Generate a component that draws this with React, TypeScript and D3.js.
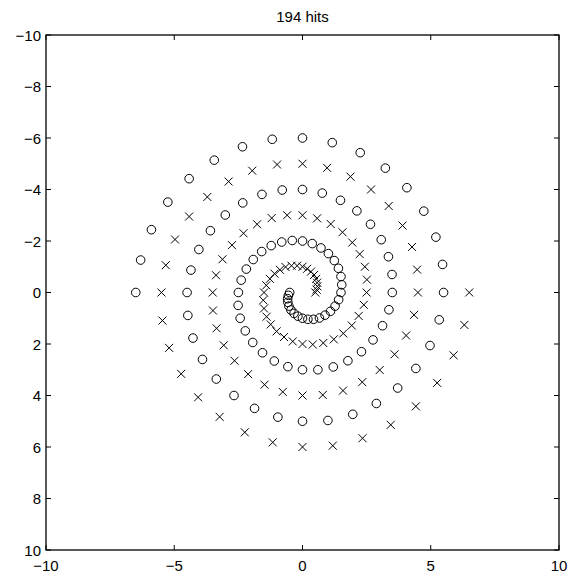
import React from 'react';
import * as d3 from 'd3';

// spiral: "x" marks, one ring step per point
const crossX = [6.50, 6.31, 5.89, 5.25, 4.42, 3.44, 2.34, 1.18, 0.00, -1.16, -2.25, -3.23, -4.07, -4.73, -5.20, -5.46,
    -5.50, -5.33, -4.97, -4.42, -3.71, -2.88, -1.96, -0.99, 0.00, 0.96, 1.87, 2.67, 3.36, 3.90, 4.27, 4.47,
    4.50, 4.35, 4.04, 3.59, 3.01, 2.33, 1.58, 0.79, 0.00, -0.77, -1.48, -2.12, -2.65, -3.07, -3.35, -3.49,
    -3.50, -3.37, -3.12, -2.75, -2.30, -1.77, -1.20, -0.60, 0.00, 0.57, 1.10, 1.56, 1.94, 2.23, 2.43, 2.51,
    2.50, 2.39, 2.19, 1.92, 1.59, 1.22, 0.81, 0.40, 0.00, -0.38, -0.72, -1.01, -1.24, -1.40, -1.50, -1.53,
    -1.50, -1.41, -1.27, -1.09, -0.88, -0.66, -0.43, -0.21, 0.00, 0.18, 0.33, 0.45, 0.53, 0.57, 0.58, 0.55,
    0.50];
const crossY = [0.00, 1.26, 2.44, 3.51, 4.42, 5.14, 5.66, 5.95, 6.00, 5.82, 5.43, 4.83, 4.07, 3.16, 2.15, 1.09,
    0.00, -1.06, -2.06, -2.95, -3.71, -4.31, -4.73, -4.97, -5.00, -4.84, -4.50, -4.00, -3.36, -2.60, -1.77, -0.89,
    0.00, 0.87, 1.67, 2.40, 3.01, 3.48, 3.81, 3.98, 4.00, 3.86, 3.58, 3.17, 2.65, 2.05, 1.39, 0.70,
    0.00, -0.67, -1.29, -1.84, -2.30, -2.65, -2.89, -3.00, -3.00, -2.88, -2.66, -2.34, -1.94, -1.49, -1.00, -0.50,
    0.00, 0.48, 0.91, 1.28, 1.59, 1.82, 1.96, 2.02, 2.00, 1.90, 1.73, 1.51, 1.24, 0.94, 0.62, 0.30,
    0.00, -0.28, -0.53, -0.73, -0.88, -0.99, -1.04, -1.04, -1.00, -0.92, -0.81, -0.68, -0.53, -0.38, -0.24, -0.11,
    0.00];

// second spiral: "o" marks
const circleX = [-6.50, -6.31, -5.89, -5.25, -4.42, -3.44, -2.34, -1.18, 0.00, 1.16, 2.25, 3.23, 4.07, 4.73, 5.20, 5.46,
    5.50, 5.33, 4.97, 4.42, 3.71, 2.88, 1.96, 0.99, 0.00, -0.96, -1.87, -2.67, -3.36, -3.90, -4.27, -4.47,
    -4.50, -4.35, -4.04, -3.59, -3.01, -2.33, -1.58, -0.79, 0.00, 0.77, 1.48, 2.12, 2.65, 3.07, 3.35, 3.49,
    3.50, 3.37, 3.12, 2.75, 2.30, 1.77, 1.20, 0.60, 0.00, -0.57, -1.10, -1.56, -1.94, -2.23, -2.43, -2.51,
    -2.50, -2.39, -2.19, -1.92, -1.59, -1.22, -0.81, -0.40, 0.00, 0.38, 0.72, 1.01, 1.24, 1.40, 1.50, 1.53,
    1.50, 1.41, 1.27, 1.09, 0.88, 0.66, 0.43, 0.21, 0.00, -0.18, -0.33, -0.45, -0.53, -0.57, -0.58, -0.55,
    -0.50];
const circleY = [0.00, -1.26, -2.44, -3.51, -4.42, -5.14, -5.66, -5.95, -6.00, -5.82, -5.43, -4.83, -4.07, -3.16, -2.15, -1.09,
    0.00, 1.06, 2.06, 2.95, 3.71, 4.31, 4.73, 4.97, 5.00, 4.84, 4.50, 4.00, 3.36, 2.60, 1.77, 0.89,
    0.00, -0.87, -1.67, -2.40, -3.01, -3.48, -3.81, -3.98, -4.00, -3.86, -3.58, -3.17, -2.65, -2.05, -1.39, -0.70,
    0.00, 0.67, 1.29, 1.84, 2.30, 2.65, 2.89, 3.00, 3.00, 2.88, 2.66, 2.34, 1.94, 1.49, 1.00, 0.50,
    0.00, -0.48, -0.91, -1.28, -1.59, -1.82, -1.96, -2.02, -2.00, -1.90, -1.73, -1.51, -1.24, -0.94, -0.62, -0.30,
    0.00, 0.28, 0.53, 0.73, 0.88, 0.99, 1.04, 1.04, 1.00, 0.92, 0.81, 0.68, 0.53, 0.38, 0.24, 0.11,
    0.00];

const xTicks = [-10, -5, 0, 5, 10];
const yTicks = [-10, -8, -6, -4, -2, 0, 2, 4, 6, 8, 10];
const title = '194 hits';

const W = 571;
const H = 575;
const font = 'Liberation Sans, Arial, Helvetica, sans-serif';

export default function App() {
    let margin = {top: 35, right: 12, bottom: 25, left: 46};
    let x = d3.scaleLinear().domain([-10, 10]).range([margin.left, W - margin.right]);
    // y runs downward, -10 at the top
    let y = d3.scaleLinear().domain([-10, 10]).range([margin.top, H - margin.bottom]);
    let tick = 5;
    let r = 4.3;
    let c = 4;

    let fmt = (v: number) => (v < 0 ? '\u2212' + Math.abs(v) : String(v));

    let circles = circleX.map((cx, i) => (
        <circle key={'o' + i} cx={x(cx)} cy={y(circleY[i])} r={r}
                fill="none" stroke="#000" strokeWidth={1}/>
    ));

    let crosses = crossX.map((cx, i) => {
        let px = x(cx);
        let py = y(crossY[i]);
        return (
            <path key={'x' + i} fill="none" stroke="#000" strokeWidth={1}
                  d={`M${px - c},${py - c}L${px + c},${py + c}M${px - c},${py + c}L${px + c},${py - c}`}/>
        );
    });

    return (
        <svg width={W} height={H} style={{position: 'absolute', left: 0, top: 0, background: '#fff'}}
             fontFamily={font}>
            <rect x={0} y={0} width={W} height={H} fill="#fff"/>
            <g stroke="#000" strokeWidth={1}>
                {xTicks.map(t => (
                    <g key={'xt' + t}>
                        <line x1={x(t)} x2={x(t)} y1={y(10)} y2={y(10) - tick}/>
                        <line x1={x(t)} x2={x(t)} y1={y(-10)} y2={y(-10) + tick}/>
                    </g>
                ))}
                {yTicks.map(t => (
                    <g key={'yt' + t}>
                        <line x1={x(-10)} x2={x(-10) + tick} y1={y(t)} y2={y(t)}/>
                        <line x1={x(10)} x2={x(10) - tick} y1={y(t)} y2={y(t)}/>
                    </g>
                ))}
            </g>
            {circles}
            {crosses}
            <rect x={x(-10)} y={y(-10)} width={x(10) - x(-10)} height={y(10) - y(-10)}
                  fill="none" stroke="#000" strokeWidth={1.3}/>
            {xTicks.map(t => (
                <text key={'xl' + t} x={x(t)} y={y(10) + 21} textAnchor="middle" fontSize={15}>{fmt(t)}</text>
            ))}
            {yTicks.map(t => (
                <text key={'yl' + t} x={x(-10) - 5} y={y(t) + 5.5} textAnchor="end" fontSize={15}>{fmt(t)}</text>
            ))}
            <text x={x(0)} y={y(-10) - 13} textAnchor="middle" fontSize={15}>{title}</text>
        </svg>
    );
}
